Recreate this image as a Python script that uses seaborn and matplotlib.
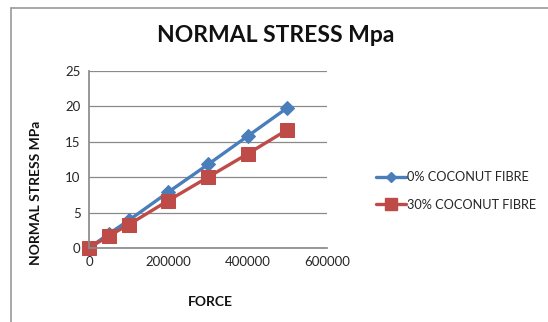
import matplotlib
matplotlib.use("Agg")
import matplotlib.pyplot as plt
import pandas as pd
import seaborn as sns
from matplotlib.lines import Line2D

force = [0, 50000, 100000, 200000, 300000, 400000, 500000]
stress_0 = [0, 2.0, 3.9, 7.9, 11.8, 15.8, 19.8]
stress_30 = [0, 1.7, 3.3, 6.7, 10.0, 13.3, 16.7]
series_names = ["0% COCONUT FIBRE", "30% COCONUT FIBRE"]
y_ticks = [0, 5, 10, 15, 20, 25]
x_ticks = [0, 200000, 400000, 600000]

df = pd.DataFrame({
    "FORCE": force * 2,
    "STRESS": stress_0 + stress_30,
    "series": [series_names[0]] * len(force) + [series_names[1]] * len(force),
})

sns.set_theme(style="white")
plt.rcParams["font.family"] = ["Lato", "DejaVu Sans"]

colors = {series_names[0]: "#4A7EBB", series_names[1]: "#BE4B48"}
markers = {series_names[0]: "D", series_names[1]: "s"}
msizes = {series_names[0]: 7, series_names[1]: 9.5}

fig = plt.figure(figsize=(5.48, 3.22), dpi=100)
ax = fig.add_axes([89 / 548, 1 - 248 / 322, (327 - 89) / 548, (248 - 71) / 322])

for name in series_names:
    sub = df[df["series"] == name]
    sns.lineplot(data=sub, x="FORCE", y="STRESS", ax=ax, color=colors[name],
                 marker=markers[name], markersize=msizes[name],
                 markeredgecolor=colors[name], linewidth=2.4, legend=False)
for line in ax.get_lines():
    line.set_clip_on(False)

ax.set_xlim(0, 600000)
ax.set_ylim(0, 25)
ax.set_xticks(x_ticks)
ax.set_yticks(y_ticks)
ax.set_xticklabels([str(v) for v in x_ticks])
ax.set_yticklabels([str(v) for v in y_ticks])
ax.tick_params(axis="both", labelsize=9.5, colors="#262626", length=0, pad=6)
ax.yaxis.grid(True, color="#8a8a8a", linewidth=0.9)
ax.xaxis.grid(False)
for side in ["top", "right"]:
    ax.spines[side].set_visible(False)
ax.spines["left"].set_color("#8a8a8a")
ax.spines["bottom"].set_color("#8a8a8a")
ax.set_xlabel("")
ax.set_ylabel("")

fig.text(276 / 548, 1 - 36 / 322, "NORMAL STRESS Mpa", ha="center", va="center",
         fontsize=16.5, fontweight="bold", color="#111111")
fig.text(210 / 548, 1 - 302 / 322, "FORCE", ha="center", va="center",
         fontsize=10, fontweight="bold", color="#111111")
fig.text(36 / 548, 1 - 193 / 322, "NORMAL STRESS MPa", ha="center", va="center",
         rotation=90, fontsize=10, fontweight="bold", color="#111111")

handles = [
    Line2D([], [], color=colors[series_names[0]], marker="D", markersize=5.5, linewidth=2.4),
    Line2D([], [], color=colors[series_names[1]], marker="s", markersize=8, linewidth=2.4),
]
fig.legend(handles, series_names, loc="center left",
           bbox_to_anchor=(364 / 548, 1 - 191 / 322), frameon=False, fontsize=9.2,
           handlelength=2.4, handletextpad=0.1, labelspacing=1.2)

# outer chart frame
fig.add_artist(Line2D([11 / 548, 11 / 548], [0, 1 - 8 / 322], transform=fig.transFigure,
                      color="#9a9a9a", linewidth=1.2))
fig.add_artist(Line2D([11 / 548, 1], [1 - 8 / 322, 1 - 8 / 322], transform=fig.transFigure,
                      color="#9a9a9a", linewidth=1.2))

fig.savefig("out.png", dpi=100)
